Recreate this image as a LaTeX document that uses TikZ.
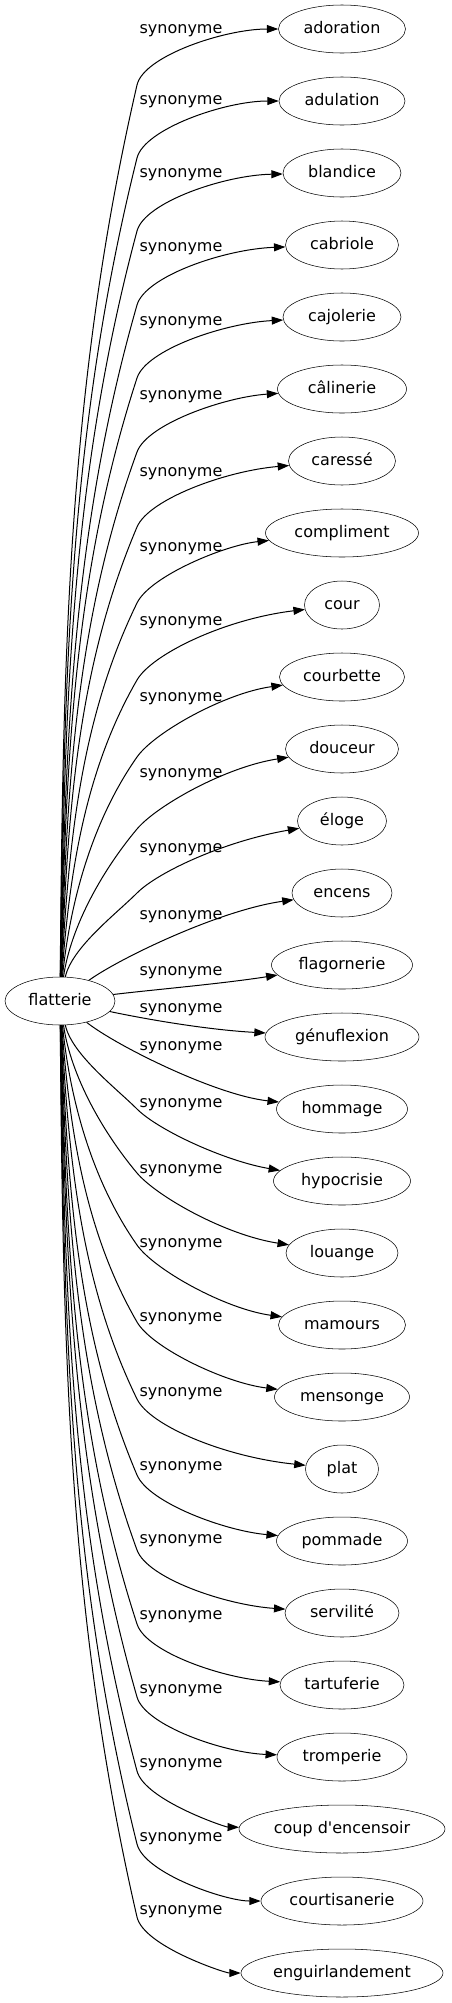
\documentclass[tikz,border=0pt]{standalone}
\usepackage{fontspec}
\setmainfont{DejaVu Sans}
\usetikzlibrary{arrows.meta,shapes.geometric}

\tikzset{
  word/.style={draw, ellipse, inner sep=0pt, minimum height=36pt, text height=8.5pt, text depth=2.5pt, font=\fontsize{12}{14}\selectfont},
  rel/.style={inner sep=0pt, text height=8.5pt, text depth=2.5pt, font=\fontsize{12}{14}\selectfont},
  link/.style={line width=0.75pt, -{Triangle[length=8.6pt,width=6pt]}}
}

\begin{document}
\begin{tikzpicture}[x=0.75pt,y=0.75pt,yscale=-1,xscale=1]
\useasboundingbox (0,0) rectangle (451,2003);

% source
\node[word, minimum width=110*0.75pt] (flatterie) at (60,1001) {flatterie};

% synonymes and their labels
\foreach \i/\txt/\w/\lab in {0/adoration/127/29, 1/adulation/126/100, 2/blandice/118/173, 3/cabriole/113/247,
  4/cajolerie/118/321, 5/câlinerie/129/395, 6/caressé/107/472, 7/compliment/153/547, 8/cour/75/621,
  9/courbette/125/697, 10/douceur/113/773, 11/éloge/89/848, 12/encens/100/915, 13/flagornerie/141/971,
  14/génuflexion/154/1008, 15/hommage/131/1046, 16/hypocrisie/137/1103, 17/louange/112/1169,
  18/mamours/127/1243, 19/mensonge/135/1317, 20/plat/73/1392, 21/pommade/131/1466, 22/servilité/114/1539,
  23/tartuferie/124/1615, 24/tromperie/130/1689, 25/coup d\textquotesingle{}encensoir/206/1763,
  26/courtisanerie/162/1837, 27/enguirlandement/202/1910}{
  \node[word, minimum width=\w*0.75pt] (t\i) at (342,{29+72*\i}) {\txt};
  \node[rel] (l\i) at (181,\lab) {synonyme};
}

% edges, upper half goes up, lower half goes down
\foreach \i in {0,...,27}{
  \pgfmathtruncatemacro\up{\i<14 ? 1 : 0}
  \pgfmathsetmacro\s{\up==1 ? -1 : 1}
  \pgfmathtruncatemacro\k{\up==1 ? 13-\i : \i-14}
  \ifnum\k>1
    \pgfmathsetmacro\ty{29+72*\i}
    \pgfmathsetmacro\g{{24,55,72,80,80,75,70,66,63,61,60,58,57,56}[\k]}
    \pgfmathsetmacro\th{{0,0,45,50,55,60,64,67,70,72,74,75,76,77}[\k]}
    \pgfmathsetmacro\dl{{0,0,20,18,16,14,12,10,8,6,4,2,0,0}[\k]}
    \pgfmathsetmacro\wy{\ty-\s*\g}
    \pgfmathsetmacro\sy{1001+\s*24}
    \pgfmathsetmacro\h{0.35*abs(\wy-\sy)}
    \coordinate (c1) at ({63+0.8*(13-\k)},{\sy+\s*\h});
    \coordinate (c2) at ({137-\h*cos(\th)},{\wy-\s*\h*sin(\th)});
    \coordinate (w) at (137,\wy);
    \coordinate (c3) at ({137+30*cos(\th)},{\wy+\s*30*sin(\th)});
    \coordinate (c4) at (225,{\ty-\s*\dl});
    \draw[link] (flatterie) .. controls (c1) and (c2) .. (w) .. controls (c3) and (c4) .. (t\i);
  \fi
}

% the four middle edges
\draw[link] (flatterie) .. controls (120,958) and (220,910) .. (t12);
\draw[link] (flatterie) .. controls (150,990) and (220,984) .. (t13);
\draw[link] (flatterie) .. controls (150,1020) and (210,1030) .. (t14);
\draw[link] (flatterie) .. controls (115,1045) and (215,1095) .. (t15);

\end{tikzpicture}
\end{document}
